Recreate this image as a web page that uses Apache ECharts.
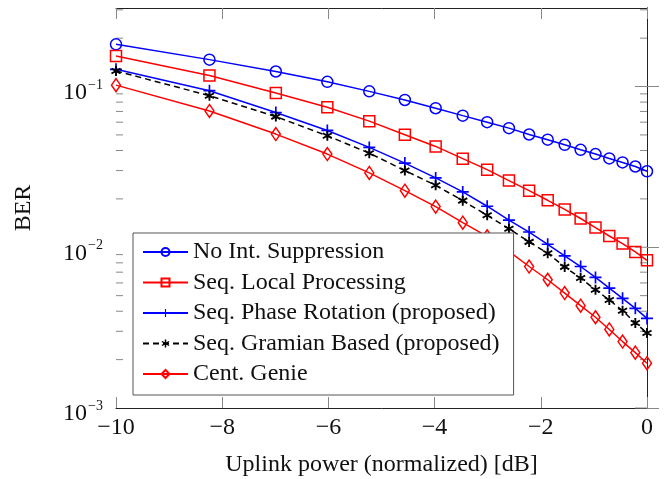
<!DOCTYPE html>
<html>
<head>
<meta charset="utf-8">
<script src="https://cdn.jsdelivr.net/npm/echarts@6/dist/echarts.min.js"></script>
<style>
  html, body { margin: 0; padding: 0; background: #fff; }
  #chart { width: 672px; height: 479px; }
</style>
</head>
<body>
<div id="chart"></div>
<script>
// uplink power [dB]
var xs = [-10, -8.24, -6.99, -6.02, -5.23, -4.56, -3.98, -3.47, -3.01, -2.6, -2.22, -1.87, -1.55, -1.25, -0.97, -0.71, -0.46, -0.22, 0];

// BER per scheme
var noInt = [0.183, 0.147, 0.124, 0.107, 0.0933, 0.0825, 0.0733, 0.0659, 0.060, 0.0551, 0.0503, 0.0467, 0.0434, 0.0404, 0.038, 0.0357, 0.0337, 0.0318, 0.0297];
var localProc = [0.155, 0.117, 0.0912, 0.0743, 0.0609, 0.0501, 0.0424, 0.0356, 0.0304, 0.026, 0.0225, 0.0196, 0.0172, 0.0151, 0.01325, 0.01175, 0.01054, 0.00935, 0.0083];
var phaseRot = [0.128, 0.0942, 0.0689, 0.0533, 0.0418, 0.0334, 0.027, 0.0221, 0.018, 0.01476, 0.01244, 0.01044, 0.00884, 0.00759, 0.00649, 0.00557, 0.00481, 0.00417, 0.00361];
var gramian = [0.125, 0.0877, 0.065, 0.0494, 0.0385, 0.030, 0.0243, 0.0195, 0.0158, 0.01305, 0.0108, 0.00918, 0.00755, 0.00643, 0.00544, 0.0047, 0.00403, 0.00338, 0.00293];
var genie = [0.102, 0.0705, 0.0506, 0.038, 0.029, 0.0225, 0.0179, 0.01422, 0.0117, 0.00944, 0.00759, 0.00628, 0.00519, 0.00433, 0.00367, 0.00308, 0.00259, 0.00221, 0.0019];

var names = ['No Int. Suppression', 'Seq. Local Processing', 'Seq. Phase Rotation (proposed)', 'Seq. Gramian Based (proposed)', 'Cent. Genie'];

// y ticks: decades and log minor ticks (2..9 x 10^k)
var majorTicks = [0.001, 0.01, 0.1];
var minorTicks = [0.002, 0.003, 0.004, 0.005, 0.006, 0.007, 0.008, 0.009,
                  0.02, 0.03, 0.04, 0.05, 0.06, 0.07, 0.08, 0.09, 0.2, 0.3];

var plusPath = 'path://M-0.14,-1h0.28v0.86h0.86v0.28h-0.86v0.86h-0.28v-0.86h-0.86v-0.28h0.86z';
var starPath = 'path://M-0.18,1L0.18,1L0.18,-1L-0.18,-1Z' +
  'M0.776,0.656L0.956,0.344L-0.776,-0.656L-0.956,-0.344Z' +
  'M-0.956,0.344L-0.776,0.656L0.956,-0.344L0.776,-0.656Z';

function pairs(ys) {
  return xs.map(function (x, i) { return [x, ys[i]]; });
}

var FONT = 'Liberation Serif';
var BLUE = '#0000ff', RED = '#ff0000';

function mkSeries(name, ys, color, symbol, size, hollow, dashed) {
  return {
    name: name,
    type: 'line',
    data: pairs(ys),
    symbol: symbol,
    symbolSize: size,
    showAllSymbol: true,
    clip: false,
    z: 3,
    lineStyle: { color: color, width: 1.5, type: dashed ? [6, 4] : 'solid' },
    itemStyle: hollow
      ? { color: 'rgba(0,0,0,0)', borderColor: color, borderWidth: 1.5 }
      : { color: color, borderWidth: 0 }
  };
}

// short tick lines, drawn inwards from left and/or right edge
function tickSeries(vals, len, leftSide) {
  return {
    type: 'custom',
    silent: true,
    z: 1,
    data: vals.map(function (v) { return [-10, v]; }),
    renderItem: function (params, api) {
      var p = api.coord([-10, api.value(1)]);
      var q = api.coord([0, api.value(1)]);
      var st = { stroke: '#888', lineWidth: 1 };
      var kids = [{ type: 'line', shape: { x1: q[0] - len, y1: q[1], x2: q[0], y2: q[1] }, style: st }];
      if (leftSide) {
        kids.push({ type: 'line', shape: { x1: p[0], y1: p[1], x2: p[0] + len, y2: p[1] }, style: st });
      }
      return { type: 'group', children: kids };
    }
  };
}

var chart = echarts.init(document.getElementById('chart'));
chart.setOption({
  animation: false,
  textStyle: { fontFamily: FONT },
  grid: { left: 116, right: 25, top: 8, bottom: 71, containLabel: false, outerBoundsMode: 'none' },
  legend: {
    data: names,
    orient: 'vertical',
    left: 133,
    top: 233,
    itemWidth: 45,
    itemHeight: 10,
    itemGap: 6.5,
    padding: [7, 14, 9, 9],
    backgroundColor: '#fff',
    borderColor: '#555',
    borderWidth: 1,
    selectedMode: false,
    textStyle: { fontFamily: FONT, fontSize: 24, color: '#111', lineHeight: 24 }
  },
  xAxis: [{
    type: 'value',
    min: -10, max: 0, interval: 2,
    name: 'Uplink power (normalized) [dB]',
    nameLocation: 'middle',
    nameGap: 45,
    nameTextStyle: { fontFamily: FONT, fontSize: 24, color: '#111' },
    axisLine: { show: true, lineStyle: { color: '#222', width: 1 } },
    axisTick: { show: true, inside: true, length: 11, lineStyle: { color: '#888' } },
    axisLabel: {
      fontFamily: FONT, fontSize: 24, color: '#111', margin: 8,
      formatter: function (v) { return v < 0 ? '\u2212' + (-v) : String(v); }
    },
    splitLine: { show: false }
  }, {
    type: 'value', position: 'top',
    min: -10, max: 0, interval: 2,
    axisLine: { show: true, lineStyle: { color: '#222', width: 1 } },
    axisTick: { show: true, inside: true, length: 11, lineStyle: { color: '#888' } },
    axisLabel: { show: false },
    splitLine: { show: false }
  }],
  yAxis: [{
    type: 'log',
    min: 0.001, max: 0.308,
    name: 'BER',
    nameLocation: 'middle',
    nameGap: 80,
    nameRotate: 90,
    nameTextStyle: { fontFamily: FONT, fontSize: 24, color: '#111' },
    axisLine: { show: true, lineStyle: { color: '#222', width: 1 } },
    axisTick: { show: true, inside: true, length: 12, lineStyle: { color: '#888' } },
    axisLabel: {
      showMaxLabel: false,
      margin: 13,
      formatter: function (v) {
        var e = Math.round(Math.log10(v));
        return '{b|10}{s|\u2212' + (-e) + '}';
      },
      rich: {
        b: { fontFamily: FONT, fontSize: 24, color: '#111', padding: [12, 0, 0, 0] },
        s: { fontFamily: FONT, fontSize: 14, color: '#111', padding: [0, 0, 3, 1] }
      }
    },
    splitLine: { show: false }
  }, {
    type: 'log', position: 'right',
    min: 0.001, max: 0.308,
    axisLine: { show: true, lineStyle: { color: '#222', width: 1 } },
    axisTick: { show: false },
    axisLabel: { show: false },
    splitLine: { show: false }
  }],
  series: [
    tickSeries(minorTicks, 7, true),
    tickSeries(majorTicks, 12, false),
    mkSeries(names[0], noInt, BLUE, 'circle', 11, true, false),
    mkSeries(names[1], localProc, RED, 'rect', 11, true, false),
    mkSeries(names[2], phaseRot, BLUE, plusPath, 12, false, false),
    mkSeries(names[3], gramian, '#000', starPath, 10, false, true),
    mkSeries(names[4], genie, RED, 'diamond', [9, 13], true, false)
  ]
});
</script>
</body>
</html>
